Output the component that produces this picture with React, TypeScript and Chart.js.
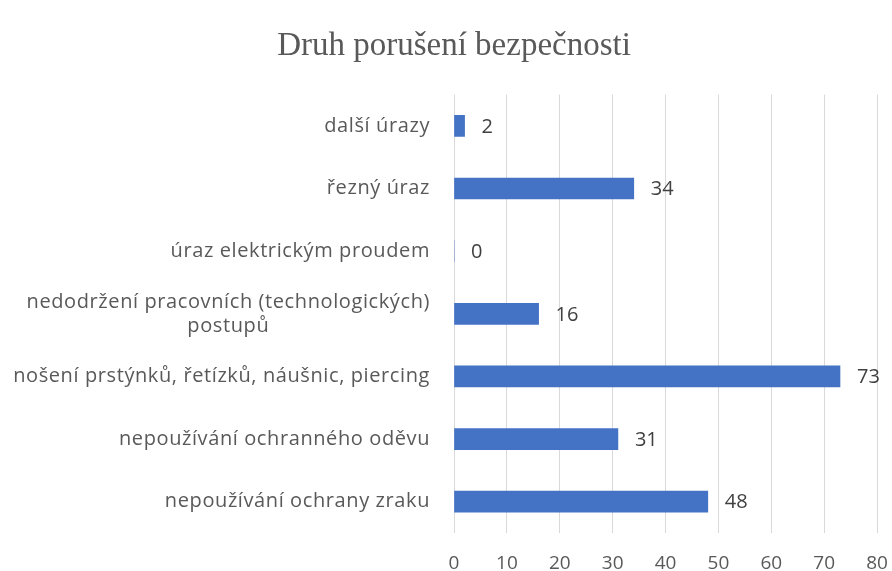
import React, { useEffect, useRef } from "react";
import { Chart, registerables } from "chart.js";

Chart.register(...registerables);

const titleText = "Druh porušení bezpečnosti";
const categories: (string | string[])[] = [
  "další úrazy",
  "řezný úraz",
  "úraz elektrickým proudem",
  ["nedodržení pracovních (technologických)", "postupů"],
  "nošení prstýnků, řetízků, náušnic, piercing",
  "nepoužívání ochranného oděvu",
  "nepoužívání ochrany zraku",
];
const values = [2, 34, 0, 16, 73, 31, 48];
const xMin = 0;
const xMax = 80;
const xStep = 10;

const TEXT = "#595959";
const LABEL_FONT = "'Open Sans', 'Noto Sans', sans-serif";

const categoryLabelsPlugin = {
  id: "categoryLabels",
  afterDraw(chart: any) {
    const ctx = chart.ctx;
    const yScale = chart.scales.y;
    const rightX = chart.chartArea.left - 24;
    ctx.save();
    ctx.font = `20px ${LABEL_FONT}`;
    (ctx as any).letterSpacing = "0.6px";
    ctx.fillStyle = TEXT;
    ctx.textBaseline = "middle";
    ctx.textAlign = "center";
    categories.forEach((cat, i) => {
      const lines = Array.isArray(cat) ? cat : [cat];
      const w = Math.max(...lines.map((l) => ctx.measureText(l).width));
      const cx = rightX - w / 2;
      const yc = yScale.getPixelForTick(i);
      const lh = 24;
      const start = yc - ((lines.length - 1) * lh) / 2;
      lines.forEach((l, j) => ctx.fillText(l, cx, start + j * lh));
    });
    ctx.restore();
  },
};

const dataLabelsPlugin = {
  id: "dataLabels",
  afterDatasetsDraw(chart: any) {
    const ctx = chart.ctx;
    const meta = chart.getDatasetMeta(0);
    ctx.save();
    ctx.font = `20px ${LABEL_FONT}`;
    ctx.fillStyle = "#404040";
    ctx.textBaseline = "middle";
    ctx.textAlign = "left";
    meta.data.forEach((bar: any, i: number) => {
      ctx.fillText(String(values[i]), bar.x + 17, bar.y + 1);
    });
    ctx.restore();
  },
};

export default function App() {
  const ref = useRef<HTMLCanvasElement>(null);
  useEffect(() => {
    document.body.style.margin = "0";
    const chart = new Chart(ref.current!, {
      type: "bar",
      data: {
        labels: categories as any,
        datasets: [
          {
            data: values,
            backgroundColor: "#4472C4",
            borderWidth: 0,
            barThickness: 21,
          },
        ],
      },
      options: {
        indexAxis: "y",
        responsive: false,
        animation: false,
        layout: { padding: { left: 16, right: 0, top: 0, bottom: 0 } },
        plugins: {
          legend: { display: false },
          tooltip: { enabled: false },
          title: {
            display: true,
            text: titleText,
            color: TEXT,
            font: { family: "'Liberation Serif', 'DejaVu Serif', serif", size: 33, weight: "normal" },
            padding: { top: 27, bottom: 28 },
          },
        },
        scales: {
          x: {
            min: xMin,
            max: xMax,
            ticks: { stepSize: xStep, color: TEXT, font: { family: LABEL_FONT, size: 19 }, padding: 19 },
            grid: { color: "#d9d9d9", lineWidth: 1, drawTicks: false },
            border: { display: false },
            afterFit: (s: any) => {
              s.height = 38;
              s.paddingRight = 15;
              s.paddingLeft = 0;
            },
          },
          y: {
            ticks: { display: false },
            grid: { display: false },
            border: { display: false },
            afterFit: (s: any) => {
              s.width = 438;
            },
          },
        },
      },
      plugins: [categoryLabelsPlugin, dataLabelsPlugin],
    });
    return () => chart.destroy();
  }, []);
  return (
    <div style={{ width: 892, height: 571, background: "#fff" }}>
      <canvas ref={ref} width={892} height={571} />
    </div>
  );
}
